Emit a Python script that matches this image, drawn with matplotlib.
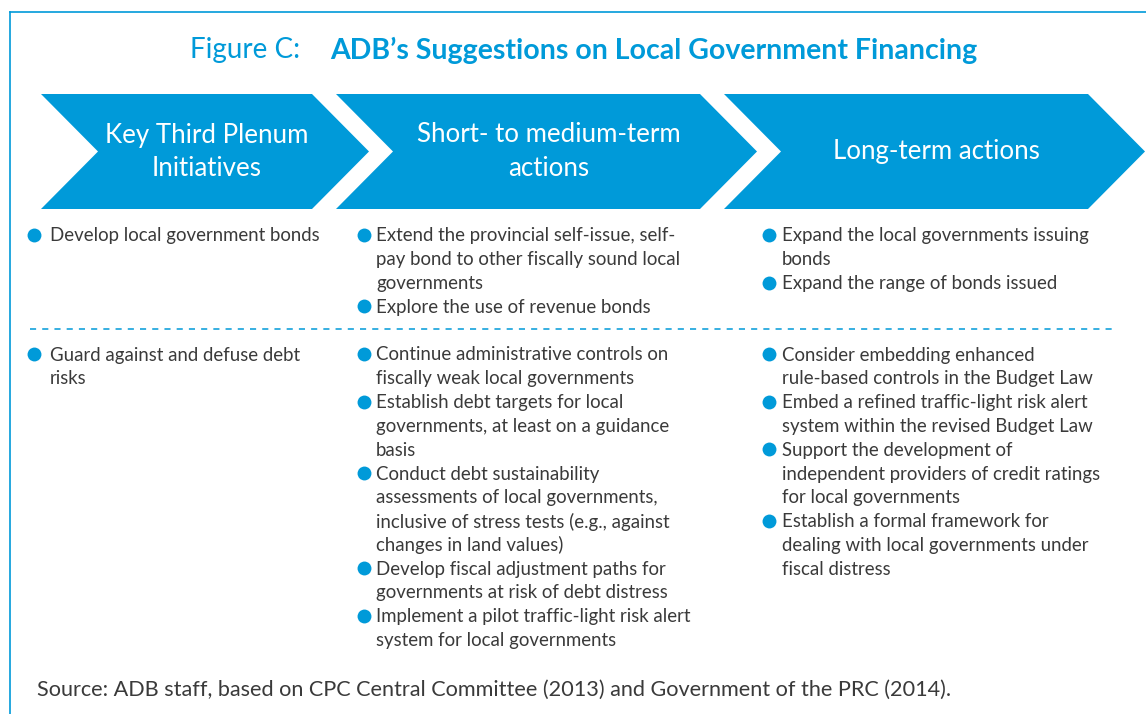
import matplotlib
matplotlib.use("Agg")
import matplotlib.pyplot as plt
from matplotlib.patches import Polygon

plt.rcParams['font.family'] = ['Lato', 'DejaVu Sans']

BLUE = '#009ad9'
TEXT = '#3a3a3a'

################################################################################
TITLE_LEFT = "Figure C:"
TITLE_RIGHT = "ADB\u2019s Suggestions on Local Government Financing"
HEADERS = ["Key Third Plenum\nInitiatives",
           "Short- to medium-term\nactions",
           "Long-term actions"]

# bullets per column, top row then bottom row (each bullet is a list of lines)
ROW1 = [
    [["Develop local government bonds"]],
    [["Extend the provincial self-issue, self-",
      "pay bond to other fiscally sound local",
      "governments"],
     ["Explore the use of revenue bonds"]],
    [["Expand the local governments issuing",
      "bonds"],
     ["Expand the range of bonds issued"]],
]
ROW2 = [
    [["Guard against and defuse debt",
      "risks"]],
    [["Continue administrative controls on",
      "fiscally weak local governments"],
     ["Establish debt targets for local",
      "governments, at least on a guidance",
      "basis"],
     ["Conduct debt sustainability",
      "assessments of local governments,",
      "inclusive of stress tests (e.g., against",
      "changes in land values)"],
     ["Develop fiscal adjustment paths for",
      "governments at risk of debt distress"],
     ["Implement a pilot traffic-light risk alert",
      "system for local governments"]],
    [["Consider embedding enhanced",
      "rule-based controls in the Budget Law"],
     ["Embed a refined traffic-light risk alert",
      "system within the revised Budget Law"],
     ["Support the development of",
      "independent providers of credit ratings",
      "for local governments"],
     ["Establish a formal framework for",
      "dealing with local governments under",
      "fiscal distress"]],
]
SOURCE = "Source: ADB staff, based on CPC Central Committee (2013) and Government of the PRC (2014)."

################################################################################
W, H = 1146, 714
fig = plt.figure(figsize=(W/100, H/100), dpi=100)
ax = fig.add_axes([0, 0, 1, 1])
ax.set_xlim(0, W)
ax.set_ylim(H, 0)
ax.axis('off')

# frame (open at right and bottom, like the page crop)
ax.plot([10, 10], [12, H], color=BLUE, lw=1.2)
ax.plot([10, W], [12, 12], color=BLUE, lw=1.2)

# title
ax.text(300, 50, TITLE_LEFT, color=BLUE, fontsize=20, ha='right', va='center')
ax.text(330, 50, TITLE_RIGHT, color=BLUE, fontsize=20.5, fontweight='bold',
        ha='left', va='center')

# chevrons
chev_x = [41, 336, 724]
chev_w = [271, 364, 364]
notch = 57
top, bot = 94, 209
mid = (top + bot) / 2
for x0, w, label in zip(chev_x, chev_w, HEADERS):
    pts = [(x0, top), (x0 + w, top), (x0 + w + notch, mid),
           (x0 + w, bot), (x0, bot), (x0 + notch, mid)]
    ax.add_patch(Polygon(pts, closed=True, facecolor=BLUE, edgecolor='none'))
    cx = x0 + notch + (w - notch) / 2 + 2
    ax.text(cx, mid, label, color='white', fontsize=18.6, ha='center',
            va='center', linespacing=1.4)

# bullet text
bullet_x = [34, 364, 769]
text_x = [50, 376, 782]
line_h = 23.8

def draw_column(bullets, bx, tx, y):
    for b in bullets:
        ax.plot(bx, y - 1, 'o', color=BLUE, ms=10, mec='none')
        for line in b:
            ax.text(tx, y, line, color=TEXT, fontsize=13.4, ha='left', va='center')
            y += line_h

for col in range(3):
    draw_column(ROW1[col], bullet_x[col], text_x[col], 236)
    draw_column(ROW2[col], bullet_x[col], text_x[col], 355)

# dashed separator
ax.plot([30, 1112], [329, 329], color=BLUE, lw=1.1, ls=(0, (4, 4)))

ax.text(37, 690, SOURCE, color=TEXT, fontsize=15.6, ha='left', va='center')

fig.savefig("out.png", dpi=100)
